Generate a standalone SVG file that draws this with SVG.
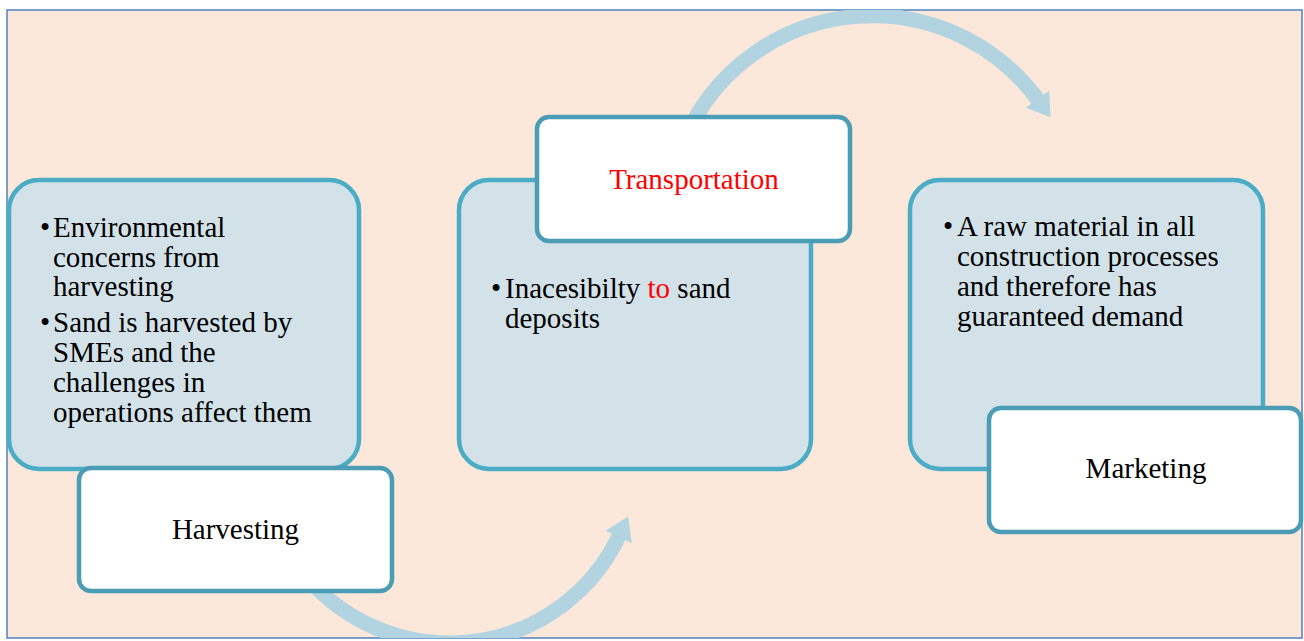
<svg xmlns="http://www.w3.org/2000/svg" width="1304" height="641" viewBox="0 0 1304 641">
  <style>
    .frame { fill: #fce8da; stroke: #4f81bd; stroke-width: 1.5; }
    .body { fill: #d3e2e8; stroke: #4bacc6; stroke-width: 4.5; }
    .label { fill: #ffffff; stroke: #4a9db5; stroke-width: 4.5; }
    .flow { fill: none; stroke: #b2d4e0; stroke-width: 15; }
    text { font-family: "Liberation Serif", "Times New Roman", serif; font-size: 29px; fill: #000000; }
    .mid { text-anchor: middle; }
    .red { fill: #ff0000; }
  </style>
  <defs>
    <clipPath id="inside">
      <rect x="7" y="10" width="1295" height="628"/>
    </clipPath>
    <marker id="head" markerUnits="userSpaceOnUse" markerWidth="24" markerHeight="32" viewBox="-1 -16 24 32" refX="0" refY="0" orient="auto">
      <path d="M -1 -14.5 L 21.5 0 L -1 14.5 Z" fill="#b2d4e0"/>
    </marker>
  </defs>

  <!-- background panel -->
  <rect class="frame" x="7" y="10" width="1295" height="628"/>

  <!-- curved flow arrows between stages -->
  <g id="connectors" clip-path="url(#inside)">
    <path class="flow" d="M 300 568.7 A 187.7 187.7 0 0 0 619 536" marker-end="url(#head)"/>
    <path class="flow" d="M 691.3 125 A 204.9 204.9 0 0 1 1038 100" marker-end="url(#head)"/>
  </g>

  <!-- stage 1 -->
  <g id="harvesting">
    <rect class="body" x="9" y="180" width="350" height="289" rx="30" ry="30"/>
    <text x="40" y="237">•</text>
    <text x="53" y="237">Environmental</text>
    <text x="53" y="267">concerns from</text>
    <text x="53" y="296">harvesting</text>
    <text x="40" y="332">•</text>
    <text x="53" y="332">Sand is harvested by</text>
    <text x="53" y="362">SMEs and the</text>
    <text x="53" y="392">challenges in</text>
    <text x="53" y="422">operations affect them</text>
    <rect class="label" x="79" y="468" width="313" height="123" rx="12" ry="12"/>
    <text class="mid" x="235.5" y="539">Harvesting</text>
  </g>

  <!-- stage 2 -->
  <g id="transportation">
    <rect class="body" x="459" y="180" width="352" height="289" rx="30" ry="30"/>
    <text x="491" y="298">•</text>
    <text x="505" y="298">Inacesibilty <tspan class="red">to</tspan> sand</text>
    <text x="505" y="328">deposits</text>
    <rect class="label" x="537" y="117" width="313" height="124" rx="12" ry="12"/>
    <text class="mid red" x="694" y="189">Transportation</text>
  </g>

  <!-- stage 3 -->
  <g id="marketing">
    <rect class="body" x="910" y="180" width="353" height="289" rx="30" ry="30"/>
    <text x="943" y="236">•</text>
    <text x="957" y="236">A raw material in all</text>
    <text x="957" y="266">construction processes</text>
    <text x="957" y="296">and therefore has</text>
    <text x="957" y="326">guaranteed demand</text>
    <rect class="label" x="989" y="408" width="312" height="124" rx="12" ry="12"/>
    <text class="mid" x="1146" y="478">Marketing</text>
  </g>
</svg>
